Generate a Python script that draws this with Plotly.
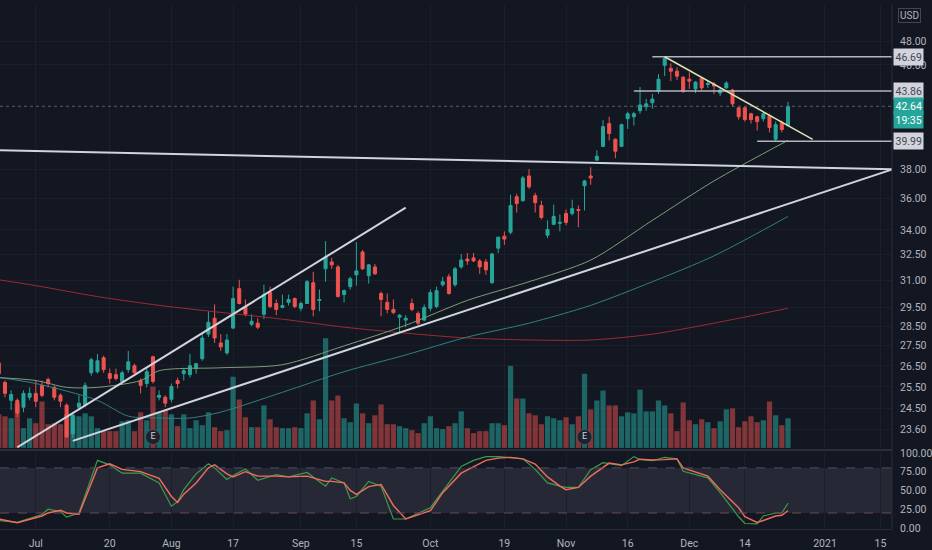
import numpy as np
import pandas as pd
import plotly.graph_objects as go

# trading calendar: Jun 23 2020 .. end of Jan 2021 (US market holidays removed)
holidays = ["2020-07-03", "2020-09-07", "2020-11-26", "2020-12-25", "2021-01-01", "2021-01-18"]
dates = [d.strftime("%Y-%m-%d") for d in pd.bdate_range("2020-06-23", "2021-01-29")
         if d.strftime("%Y-%m-%d") not in holidays]

# daily candles, Jun 23 .. Dec 23 2020
opens = [26.65, 25.71, 24.88, 24.88, 24.57, 25.02,
         25.20, 25.57, 25.85, 25.48, 25.11, 24.66, 23.40, 24.57, 24.66, 26.17,
         26.22, 26.90, 26.13, 26.08, 25.76, 26.32, 26.51, 25.80, 25.66, 26.95,
         25.02, 25.02, 24.93, 25.80, 26.13, 26.08, 26.37, 26.85, 28.09, 28.92,
         27.64, 27.14, 28.40, 30.53, 29.55, 28.60, 28.66, 29.13, 30.31, 29.71,
         29.50, 29.77, 29.98, 29.45, 29.71, 30.86, 29.88, 31.66, 32.06, 31.77,
         30.20, 30.64, 31.31, 32.65, 31.26, 31.77, 30.26, 29.77, 29.39, 28.97,
         28.82, 29.71, 29.18, 28.82, 29.45, 29.55, 30.75, 31.20, 30.75, 31.77,
         32.23, 32.30, 32.12, 32.06, 30.86, 32.88, 33.61, 33.85, 36.13, 35.87,
         37.53, 36.20, 35.55, 33.67, 34.35, 34.41, 35.04, 35.04, 35.29, 36.86,
         37.53, 38.63, 39.62, 41.31, 40.14, 39.62, 41.68, 41.83, 42.29, 42.60,
         42.91, 43.84, 45.96, 45.71, 45.47, 44.97, 44.81, 44.02, 44.89, 44.38,
         44.41, 43.69, 44.10, 43.93, 42.52, 42.52, 42.06, 41.83, 41.68, 41.91,
         40.14, 41.38, 41.16]
highs = [26.85, 25.80, 25.34, 24.97, 25.34, 25.48,
         25.80, 25.80, 25.94, 25.57, 25.20, 24.75, 24.35, 25.11, 25.71, 26.90,
         27.09, 27.00, 26.37, 26.37, 26.27, 27.24, 26.61, 25.90, 26.41, 27.00,
         25.34, 25.11, 25.66, 25.94, 26.41, 27.09, 26.65, 28.09, 29.29, 29.66,
         28.09, 28.09, 30.64, 31.03, 29.93, 29.13, 28.92, 30.75, 30.64, 29.93,
         30.20, 30.20, 30.04, 29.82, 31.03, 31.49, 30.48, 33.31, 32.30, 31.89,
         30.48, 31.20, 33.25, 32.77, 31.94, 31.94, 30.37, 30.26, 29.93, 29.13,
         29.08, 29.98, 29.29, 29.66, 30.48, 30.64, 31.20, 31.37, 31.77, 32.53,
         32.59, 32.59, 32.23, 32.23, 32.59, 33.55, 33.91, 36.26, 36.33, 37.53,
         38.00, 36.39, 35.87, 34.60, 35.61, 34.97, 35.29, 35.93, 35.55, 37.26,
         38.14, 39.34, 41.57, 41.83, 40.20, 41.31, 42.21, 42.21, 44.17, 43.21,
         43.61, 45.22, 46.69, 46.12, 45.80, 45.06, 45.38, 44.65, 44.97, 44.65,
         44.57, 44.17, 44.65, 44.02, 42.60, 42.60, 42.14, 41.91, 42.21, 42.06,
         41.46, 41.53, 42.99]
lows = [26.00, 25.02, 24.44, 24.13, 24.35, 24.88,
        24.57, 25.02, 25.48, 24.88, 24.57, 23.23, 23.23, 24.44, 24.57, 26.03,
        26.13, 26.17, 25.66, 25.80, 25.71, 26.17, 26.13, 25.20, 25.48, 25.66,
        24.88, 24.57, 24.79, 25.43, 25.80, 25.94, 26.13, 26.75, 27.94, 27.64,
        27.24, 27.04, 28.35, 29.66, 29.02, 28.50, 28.35, 28.87, 29.45, 29.08,
        29.45, 29.60, 29.45, 29.29, 29.71, 29.02, 29.29, 30.92, 31.66, 30.04,
        29.77, 30.48, 30.70, 31.60, 30.81, 31.31, 29.02, 29.18, 29.13, 28.19,
        28.45, 29.29, 28.55, 28.76, 29.29, 29.45, 30.64, 30.20, 30.64, 31.66,
        31.89, 32.06, 31.37, 31.31, 30.81, 32.59, 33.07, 33.73, 35.10, 35.80,
        36.66, 35.10, 34.66, 33.49, 34.29, 33.91, 34.29, 34.91, 34.16, 35.23,
        36.93, 38.63, 39.62, 40.06, 38.77, 39.62, 40.91, 41.16, 42.06, 42.29,
        42.45, 43.61, 45.06, 44.65, 44.73, 43.69, 44.02, 43.69, 43.93, 44.10,
        43.61, 43.45, 44.02, 42.60, 41.61, 41.46, 41.31, 40.79, 41.46, 40.65,
        39.99, 40.65, 41.16]
closes = [26.13, 25.20, 25.15, 24.31, 25.20, 25.20,
          24.84, 25.11, 25.66, 25.02, 24.84, 23.27, 24.22, 24.75, 25.57, 26.80,
          26.75, 26.32, 25.90, 25.90, 26.17, 26.70, 26.17, 25.57, 26.22, 25.76,
          25.11, 24.75, 25.52, 25.66, 26.27, 26.51, 26.61, 27.89, 28.71, 27.89,
          27.44, 27.79, 29.98, 29.71, 29.13, 28.76, 28.45, 30.20, 29.55, 29.39,
          29.60, 29.93, 29.55, 29.71, 30.92, 29.39, 29.93, 32.36, 31.89, 30.09,
          30.42, 31.09, 31.54, 31.66, 31.89, 31.37, 29.93, 29.39, 29.23, 29.08,
          28.92, 29.39, 28.66, 29.50, 30.31, 30.42, 30.92, 30.26, 31.66, 32.17,
          32.12, 32.12, 31.77, 31.60, 32.53, 33.55, 33.43, 35.55, 35.68, 37.39,
          36.79, 35.74, 34.78, 34.03, 34.85, 34.47, 34.47, 35.35, 35.23, 37.19,
          37.39, 38.91, 41.08, 40.57, 39.27, 41.23, 42.06, 42.06, 42.75, 42.83,
          43.21, 44.81, 46.54, 45.47, 45.06, 43.84, 44.65, 44.57, 44.10, 44.45,
          44.25, 43.93, 44.49, 42.83, 41.83, 41.61, 41.61, 41.46, 42.06, 41.01,
          41.23, 40.86, 42.64]
# volume, millions of shares
volumes = [8.5, 8.0, 7.5, 11.25, 5.0, 7.5,
           6.25, 11.75, 6.0, 6.25, 6.0, 8.5, 8.0, 8.0, 8.75, 8.0,
           5.0, 4.25, 4.25, 4.25, 6.75, 7.0, 4.25, 9.0, 7.0, 15.5,
           9.0, 9.5, 8.5, 5.5, 8.5, 5.0, 7.0, 5.75, 9.0, 5.25,
           4.25, 4.5, 18.0, 12.25, 7.75, 5.25, 5.25, 10.75, 7.25, 5.25,
           5.0, 5.0, 5.25, 5.0, 8.75, 12.0, 7.25, 27.75, 12.0, 13.25,
           7.5, 6.5, 11.25, 8.75, 6.25, 8.25, 11.0, 6.0, 6.0, 5.5,
           5.0, 4.5, 3.75, 6.25, 8.0, 5.0, 4.75, 5.5, 6.25, 9.25,
           5.0, 3.75, 4.25, 4.25, 6.25, 6.25, 5.75, 20.75, 12.5, 12.5,
           8.75, 8.25, 6.0, 8.0, 7.5, 7.0, 7.75, 6.0, 8.0, 18.75,
           9.75, 12.0, 14.5, 10.75, 10.75, 8.0, 9.0, 8.75, 14.75, 9.25,
           9.25, 12.0, 10.75, 8.75, 4.25, 11.5, 7.0, 6.0, 7.25, 6.5,
           5.0, 6.75, 9.75, 10.0, 5.25, 6.75, 8.0, 6.5, 7.0, 11.75,
           8.25, 5.75, 7.5]
earnings_dates = ["2020-07-29", "2020-11-05"]

# moving averages at bar positions
ma_slow_bars = [0, 6, 16, 26, 36, 46, 56, 66, 76, 86, 96, 106, 116, 128]
ma_slow = [31.03, 30.70, 30.09, 29.61, 29.23, 28.87, 28.45, 28.14, 27.89, 27.79, 27.79, 28.09, 28.66, 29.45]
ma_fast_bars = [0, 6, 11, 16, 23, 26, 36, 46, 56, 66, 76, 86, 96, 106, 116, 128]
ma_fast = [25.94, 25.80, 25.48, 25.48, 25.80, 26.27, 26.41, 26.56, 27.49, 28.55, 29.88, 30.92, 32.17, 34.60, 37.19, 40.06]
ma_mid_bars = [0, 6, 16, 21, 26, 31, 36, 46, 56, 66, 76, 86, 96, 106, 116, 128]
ma_mid = [25.94, 25.66, 24.88, 24.17, 24.09, 24.09, 24.35, 25.25, 26.22, 27.04, 27.94, 28.66, 29.61, 30.92, 32.42, 34.85]

# stochastic %K / %D
stoch_bars = [0, 3, 7, 8, 10, 11, 13, 16, 18, 20, 23, 26, 28, 29, 30, 32, 34, 35, 37, 38, 40, 42, 45, 47,
              50, 53, 54, 56, 57, 58, 60, 62, 64, 66, 70, 72, 75, 77, 79, 81, 83, 85, 87, 89, 91, 92, 94, 96,
              98, 99, 101, 103, 104, 106, 108, 110, 111, 115, 117, 120, 121, 123, 124, 126, 127, 128]
stoch_k = [10, 7.5, 18, 25, 22, 14.5, 20, 90, 84, 73, 73, 60, 29, 35, 51, 72, 85.5, 80, 64.5, 70, 78.5, 63.6, 71, 68,
           74, 55.7, 66.7, 60, 39, 42, 62, 55.7, 12, 12, 27, 49, 82, 90, 95, 95, 93, 92, 78, 60, 55.7, 54, 54, 77.6,
           87, 86, 83, 95, 91, 89.5, 94, 92, 75.4, 66.7, 47, 15, 6, 5.6, 16, 20, 20, 33]
stoch_d = [12, 7, 16, 20, 23.7, 20, 18.4, 80, 85.5, 78, 75, 66, 42, 34, 45, 60, 80, 84, 72, 68, 75, 69, 69, 68,
           69, 62, 62, 60, 50, 44.7, 55, 58, 30, 12, 23, 47, 73, 82, 90, 93, 94, 92, 85, 68, 55.7, 51, 54, 69,
           80, 86.4, 84, 88, 91.7, 90.5, 91, 92, 80, 69, 51, 27, 15, 7.5, 10, 16, 17, 23]

# hand-drawn trend lines: (bar, price) pairs
trend_lines = [
    ([0, 145], [39.34, 38.00]),
    ([12, 145], [23.10, 38.00]),
    ([3, 66], [22.83, 35.42]),
]
wedge_top = ([108, 132], [46.69, 40.13])
levels = [46.69, 43.86, 39.99]
level_start = [106, 103, 123]
last_price = 42.64
countdown = "19:35"

tick_dates = ["2020-07-01", "2020-07-20", "2020-08-03", "2020-08-17", "2020-09-01", "2020-09-15",
              "2020-10-01", "2020-10-19", "2020-11-02", "2020-11-16", "2020-12-01", "2020-12-14",
              "2021-01-04", "2021-01-15"]
tick_text = ["Jul", "20", "Aug", "17", "Sep", "15", "Oct", "19", "Nov", "16", "Dec", "14", "2021", "15"]
price_ticks = [23.6, 24.5, 25.5, 26.5, 27.5, 28.5, 29.5, 31, 32.5, 34, 36, 38, 46, 48]

BG = "#131722"
TXT = "#b2b5be"
GRID = "#1b1f2b"
UP = "#26a69a"
DOWN = "#ef5350"

bars = list(range(len(closes)))
x_right = 144.87
x_left = 0.194

fig = go.Figure()

# volume (base axis, drawn underneath the candles)
vol_colors = ["rgba(38,166,154,0.55)" if c >= o else "rgba(239,83,80,0.5)" for o, c in zip(opens, closes)]
fig.add_trace(go.Bar(x=bars, y=volumes, marker=dict(color=vol_colors, line=dict(width=0)),
                     yaxis="y", hoverinfo="skip"))
earn_x = [dates.index(d) for d in earnings_dates]
fig.add_trace(go.Scatter(x=earn_x, y=[2.75] * len(earn_x), mode="markers+text", text=["E"] * len(earn_x),
                         textfont=dict(size=9, color="#d1d4dc"),
                         marker=dict(size=15, color="#1e222d", line=dict(color="#50535e", width=1)),
                         yaxis="y", hoverinfo="skip"))

# moving averages
for mb, mv, col in [(ma_slow_bars, ma_slow, "#9c2a30"), (ma_mid_bars, ma_mid, "#2f7f82"),
                    (ma_fast_bars, ma_fast, "#7f9c78")]:
    fig.add_trace(go.Scatter(x=mb, y=mv, mode="lines", line=dict(color=col, width=1, shape="spline", smoothing=0.8),
                             yaxis="y2", hoverinfo="skip"))

# last-price dotted line
fig.add_trace(go.Scatter(x=[x_left, x_right], y=[last_price, last_price], mode="lines",
                         line=dict(color="#5d606b", width=1, dash="dot"), yaxis="y2", hoverinfo="skip"))

fig.add_trace(go.Candlestick(x=bars, open=opens, high=highs, low=lows, close=closes,
                             increasing=dict(line=dict(color=UP, width=1), fillcolor=UP),
                             decreasing=dict(line=dict(color=DOWN, width=1), fillcolor=DOWN),
                             whiskerwidth=0, yaxis="y2", hoverinfo="skip"))

# drawings
for tx, ty in trend_lines:
    fig.add_trace(go.Scatter(x=tx, y=ty, mode="lines", line=dict(color="#d1d4dc", width=2),
                             yaxis="y2", hoverinfo="skip"))
for lv, st in zip(levels, level_start):
    fig.add_trace(go.Scatter(x=[st, x_right + 1], y=[lv, lv], mode="lines", line=dict(color="#b2b5be", width=1.5),
                             yaxis="y2", hoverinfo="skip"))
fig.add_trace(go.Scatter(x=wedge_top[0], y=wedge_top[1], mode="lines", line=dict(color="#dfe3b0", width=1.5),
                         yaxis="y2", hoverinfo="skip"))

# stochastic
fig.add_trace(go.Scatter(x=stoch_bars, y=stoch_k, mode="lines", line=dict(color="#3f9a4a", width=1.2),
                         yaxis="y3", hoverinfo="skip"))
fig.add_trace(go.Scatter(x=stoch_bars, y=stoch_d, mode="lines", line=dict(color="#f26b5e", width=1.4),
                         yaxis="y3", hoverinfo="skip"))

split = 1 - 448 / 530
stoch_top = 78 / 530

shapes = [
    dict(type="rect", xref="paper", x0=0, x1=1, yref="y3", y0=20, y1=80,
         fillcolor="rgba(150,150,170,0.15)", line=dict(width=0), layer="below"),
    dict(type="line", xref="paper", x0=0, x1=1, yref="y3", y0=80, y1=80,
         line=dict(color="#4b4e66", width=1, dash="dash")),
    dict(type="line", xref="paper", x0=0, x1=1, yref="y3", y0=20, y1=20,
         line=dict(color="#6a4b55", width=1, dash="dash")),
    dict(type="line", xref="paper", x0=0, x1=1, yref="paper", y0=(530 - 450) / 530, y1=(530 - 450) / 530,
         line=dict(color="#2a2e39", width=2)),
    dict(type="line", xref="paper", x0=1, x1=1, yref="paper", y0=0, y1=1,
         line=dict(color="#2a2e39", width=1)),
]


def price_tag(value, text, bg, fg, shift=0):
    return dict(x=1, xref="paper", xanchor="left", xshift=1, y=np.log10(value), yref="y2",
                yanchor="middle", yshift=shift, text=text, showarrow=False, bgcolor=bg,
                font=dict(color=fg, size=10.5), borderpad=1.5)


annotations = [price_tag(lv, f"{lv:.2f}", "#d1d4dc", "#434651") for lv in levels]
annotations.append(price_tag(last_price, f"{last_price:.2f}", UP, "#ffffff"))
annotations.append(price_tag(last_price, countdown, UP, "#ffffff", shift=-14))
annotations.append(dict(x=1.02, xref="paper", xanchor="center", y=1, yref="paper", yanchor="top", yshift=-3,
                        text="USD", showarrow=False, font=dict(color=TXT, size=10),
                        bordercolor="#434651", borderwidth=1, borderpad=1))

fig.update_layout(
    width=932, height=550,
    margin=dict(l=0, r=35, t=0, b=20),
    paper_bgcolor=BG, plot_bgcolor=BG,
    font=dict(family="Roboto, Liberation Sans, sans-serif", color=TXT, size=10.5),
    showlegend=False,
    bargap=0.15,
    shapes=shapes,
    annotations=annotations,
    xaxis=dict(range=[x_left, x_right], anchor="y3", rangeslider=dict(visible=False),
               tickvals=[dates.index(d) for d in tick_dates], ticktext=tick_text,
               showgrid=True, gridcolor=GRID, zeroline=False, showline=True, linecolor="#2a2e39",
               ticks="outside", ticklen=4, tickcolor="rgba(0,0,0,0)", tickfont=dict(size=10.5, color=TXT)),
    yaxis=dict(domain=[split, 1], range=[0, 112], visible=False, fixedrange=True),
    yaxis2=dict(domain=[split, 1], overlaying="y", side="right", type="log", range=[1.358, 1.7104],
                tickvals=price_ticks, ticktext=[f"{v:.2f}" for v in price_ticks],
                showgrid=True, gridcolor=GRID, zeroline=False,
                ticks="outside", ticklen=5, tickcolor="rgba(0,0,0,0)", tickfont=dict(size=10.5, color=TXT)),
    yaxis3=dict(domain=[0, stoch_top], anchor="x", side="right", range=[-1.3, 101.3],
                tickvals=[0, 25, 50, 75, 100], ticktext=["0.00", "25.00", "50.00", "75.00", "100.00"],
                showgrid=False, zeroline=False,
                ticks="outside", ticklen=5, tickcolor="rgba(0,0,0,0)", tickfont=dict(size=10.5, color=TXT)),
)

fig.write_html("out.html", config={"displayModeBar": False},
               post_script="document.body.style.margin='0';")
